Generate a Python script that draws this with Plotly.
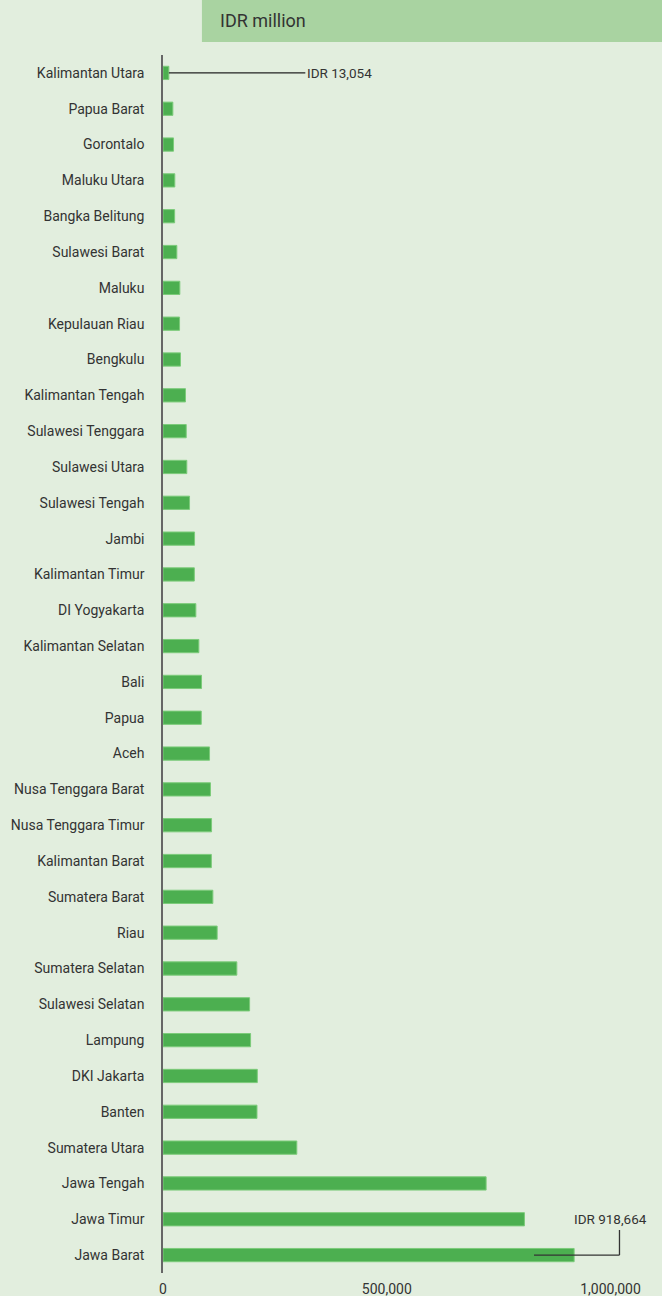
import plotly.graph_objects as go

provinces = [
    "Kalimantan Utara", "Papua Barat", "Gorontalo", "Maluku Utara", "Bangka Belitung",
    "Sulawesi Barat", "Maluku", "Kepulauan Riau", "Bengkulu", "Kalimantan Tengah",
    "Sulawesi Tenggara", "Sulawesi Utara", "Sulawesi Tengah", "Jambi", "Kalimantan Timur",
    "DI Yogyakarta", "Kalimantan Selatan", "Bali", "Papua", "Aceh",
    "Nusa Tenggara Barat", "Nusa Tenggara Timur", "Kalimantan Barat", "Sumatera Barat", "Riau",
    "Sumatera Selatan", "Sulawesi Selatan", "Lampung", "DKI Jakarta", "Banten",
    "Sumatera Utara", "Jawa Tengah", "Jawa Timur", "Jawa Barat",
]
values_idr_million = [
    13054, 22000, 23500, 26400, 26000,
    30900, 37600, 37000, 39100, 50300,
    51900, 53200, 59300, 70500, 70000,
    73400, 80100, 86100, 85500, 104000,
    106000, 108500, 108000, 111400, 121000,
    165000, 193500, 195700, 210700, 210000,
    299000, 722000, 807600, 918664,
]
tick_vals = [0, 500000, 1000000]
tick_text = ["0", "500,000", "1,000,000"]
header_text = "IDR million"
label_top = "IDR 13,054"
label_bottom = "IDR 918,664"

BG = "#e2eede"
BAR = "#4caf50"
TXT = "#333333"

fig = go.Figure()
fig.add_trace(go.Bar(
    x=values_idr_million, y=provinces, orientation="h",
    width=0.37,
    marker=dict(color=BAR, line=dict(color="#7ccb7a", width=1)),
    hoverinfo="x+y",
))

shapes = [
    dict(type="rect", xref="paper", yref="paper", x0=0.078, x1=1.0, y0=1.0107, y1=1.046,
         fillcolor="#a9d3a1", line=dict(width=0), layer="below"),
    dict(type="line", xref="x", yref="y", x0=values_idr_million[0], x1=318000,
         y0=provinces[0], y1=provinces[0], line=dict(color="#222222", width=1.3)),
    dict(type="line", xref="x", yref="y", x0=829000, x1=1020000,
         y0=provinces[-1], y1=provinces[-1], line=dict(color="#333333", width=1.3)),
    dict(type="line", xref="x", yref="y", x0=1020000, x1=1020000,
         y0=33, y1=32.3, line=dict(color="#333333", width=1.3)),
]

annotations = [
    dict(text=header_text, xref="paper", yref="paper", x=0.11, y=1.0287,
         xanchor="left", yanchor="middle", showarrow=False,
         font=dict(size=18, color=TXT)),
    dict(text=label_top, xref="x", yref="y", x=318000, y=provinces[0],
         xanchor="left", yanchor="middle", showarrow=False,
         font=dict(size=13.5, color=TXT)),
    dict(text=label_bottom, xref="x", yref="y", x=1001000, y=32.0,
         xanchor="center", yanchor="middle", showarrow=False,
         font=dict(size=13.5, color=TXT)),
]

fig.update_layout(
    width=662, height=1296,
    margin=dict(l=163, r=0, t=55, b=23, autoexpand=False),
    paper_bgcolor=BG, plot_bgcolor=BG,
    font=dict(family="Roboto, 'Open Sans', sans-serif", size=14, color=TXT),
    showlegend=False,
    shapes=shapes,
    annotations=annotations,
    bargap=0.6,
)
fig.update_xaxes(
    range=[0, 1115000], tickvals=tick_vals, ticktext=tick_text,
    showgrid=False, zeroline=False, showline=False, ticks="",
    tickfont=dict(size=14, color=TXT), ticklabelstandoff=6, automargin=False,
)
fig.update_yaxes(
    range=[33.5, -0.5], showgrid=False, zeroline=False,
    showline=True, linecolor="#666666", linewidth=1.5,
    ticks="", ticklabelstandoff=14, automargin=False,
    tickfont=dict(size=14, color=TXT),
)

fig.write_html(
    "out.html",
    config={"displayModeBar": False},
    post_script="document.body.style.margin='0';document.body.style.background='#e2eede';",
)
